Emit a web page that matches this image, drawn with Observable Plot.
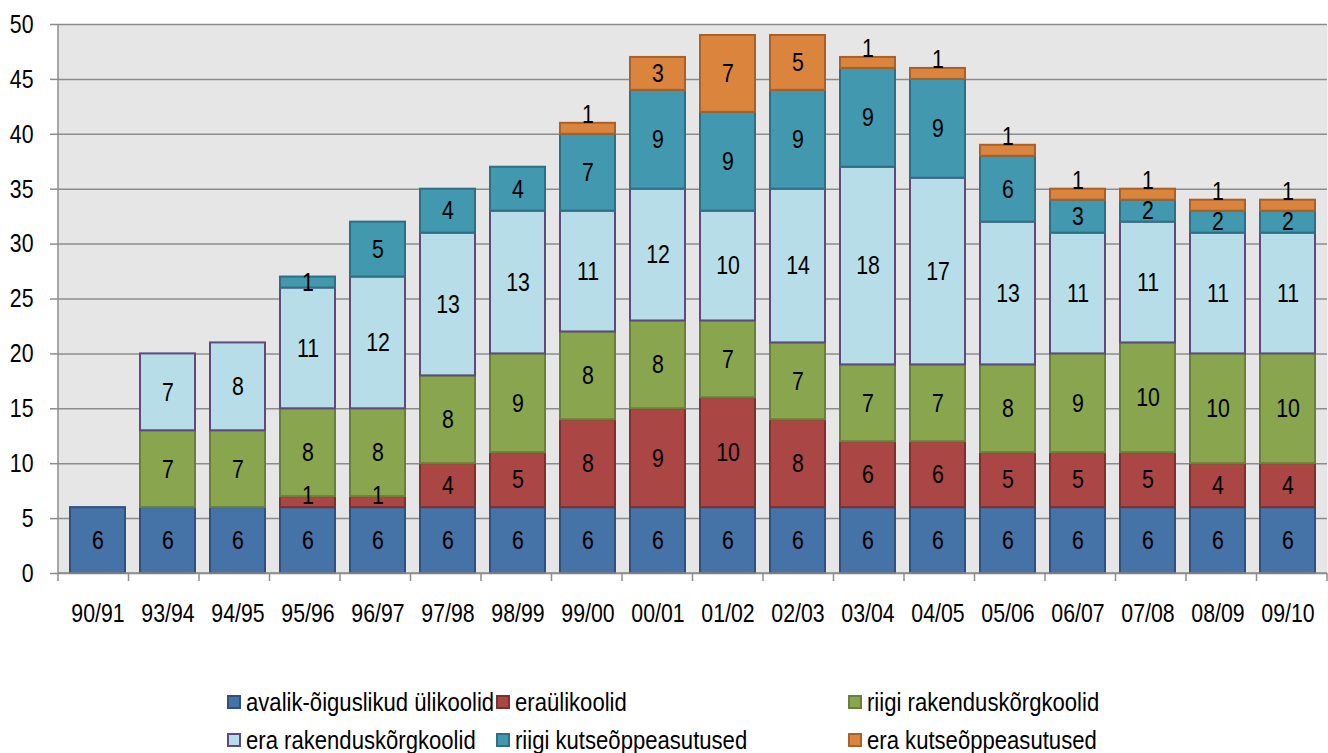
<!DOCTYPE html>
<html><head><meta charset="utf-8">
<script src="https://cdn.jsdelivr.net/npm/d3@7"></script>
<script src="https://cdn.jsdelivr.net/npm/@observablehq/plot@0.6"></script>
<style>
body{margin:0;background:#fff;font-family:"Liberation Sans",Arial,sans-serif;}
#legend{position:relative;height:103px;width:1328px;font-size:26px;color:#000}
.item{position:absolute;display:flex;align-items:center;white-space:nowrap;line-height:1;height:26px}
.sw{width:14px;height:14px;border:2px solid;margin-right:5px;box-sizing:border-box;flex:none}
.lt{display:inline-block;transform:scaleX(0.85);transform-origin:left center}
</style></head><body><div id="chart"></div><div id="legend"></div>
<script>
const categories = ["90/91","93/94","94/95","95/96","96/97","97/98","98/99","99/00","00/01","01/02","02/03","03/04","04/05","05/06","06/07","07/08","08/09","09/10"];
const seriesNames = ["avalik-õiguslikud ülikoolid","eraülikoolid","riigi rakenduskõrgkoolid","era rakenduskõrgkoolid","riigi kutseõppeasutused","era kutseõppeasutused"];
const seriesColors = ["#4572A7","#AA4643","#89A54E","#B7DEE8","#4198AF","#DB843D"];
const seriesStrokes = ["#2F5181","#7E302E","#6A803A","#5E4A7E","#2E7083","#A9612A"];
const avalikUlikoolid   = [6,6,6,6,6,6,6,6,6,6,6,6,6,6,6,6,6,6];
const eraUlikoolid      = [0,0,0,1,1,4,5,8,9,10,8,6,6,5,5,5,4,4];
const riigiRakendus     = [0,7,7,8,8,8,9,8,8,7,7,7,7,8,9,10,10,10];
const eraRakendus       = [0,7,8,11,12,13,13,11,12,10,14,18,17,13,11,11,11,11];
const riigiKutse        = [0,0,0,1,5,4,4,7,9,9,9,9,9,6,3,2,2,2];
const eraKutse          = [0,0,0,0,0,0,0,1,3,7,5,1,1,1,1,1,1,1];
const yTicks = [0,5,10,15,20,25,30,35,40,45,50];

const seriesValues = [avalikUlikoolid, eraUlikoolid, riigiRakendus, eraRakendus, riigiKutse, eraKutse];
const rows = [];
categories.forEach((cat, i) => {
  let acc = 0;
  seriesValues.forEach((vals, s) => {
    const v = vals[i];
    if (v > 0) rows.push({cat, s, series: seriesNames[s], value: v, y1: acc, y2: acc + v});
    acc += v;
  });
});

const FONT = '"Liberation Sans",Arial,sans-serif';
const FS = 26;
const W = 1328, H = 650, ML = 58, MR = 1, MT = 24, MB = 77;

function axisLines(index, scales, values, dims) {
  const {width, height, marginLeft, marginRight, marginTop, marginBottom} = dims;
  const g = d3.create("svg:g").attr("stroke", "#8c8c8c").attr("stroke-width", 1.5);
  const x0 = marginLeft, x1 = width - marginRight, yb = height - marginBottom;
  g.append("line").attr("x1", x0).attr("x2", x0).attr("y1", marginTop).attr("y2", yb + 8);
  g.append("line").attr("x1", x0).attr("x2", x1).attr("y1", yb).attr("y2", yb);
  const n = categories.length, step = (x1 - x0) / n;
  for (let i = 1; i <= n; i++) {
    g.append("line").attr("x1", x0 + i * step).attr("x2", x0 + i * step).attr("y1", yb).attr("y2", yb + 8);
  }
  return g.node();
}

const isEraKutseOne = d => d.s === 5 && d.value === 1;
const isEraUlikOne = d => d.s === 1 && d.value === 1;

const chart = Plot.plot({
  width: W, height: H, marginLeft: ML, marginRight: MR, marginTop: MT, marginBottom: MB,
  style: {fontFamily: FONT, fontSize: FS + "px", color: "#000", background: "#fff"},
  x: {domain: categories, paddingInner: 0.22, paddingOuter: 0.11, label: null},
  y: {domain: [0, 50], label: null},
  marks: [
    Plot.frame({fill: "#e6e6e6", stroke: null}),
    Plot.gridY(yTicks, {stroke: "#8c8c8c", strokeOpacity: 1, strokeWidth: 1.5}),
    Plot.axisY(yTicks, {tickSize: 8, tickPadding: 17, stroke: "#8c8c8c", strokeWidth: 1.5, label: null, fontSize: FS, fill: "#000"}),
    Plot.axisX({tickSize: 0, tickPadding: 30, label: null, fontSize: FS, fill: "#000"}),
    ...seriesNames.map((name, s) => Plot.barY(rows.filter(d => d.s === s), {
      x: "cat", y1: "y1", y2: "y2", fill: seriesColors[s], stroke: seriesStrokes[s], strokeWidth: 2
    })),
    Plot.text(rows.filter(d => !isEraKutseOne(d) && !isEraUlikOne(d)), {x: "cat", y: d => (d.y1 + d.y2) / 2, text: "value", fontSize: FS, fill: "#000"}),
    Plot.text(rows.filter(isEraKutseOne), {x: "cat", y: d => (d.y1 + d.y2) / 2, text: "value", fontSize: FS, fill: "#000", dy: -14}),
    Plot.text(rows.filter(isEraUlikOne), {x: "cat", y: d => (d.y1 + d.y2) / 2, text: "value", fontSize: FS, fill: "#000", dy: -6}),
    axisLines
  ]
});
// narrow the glyphs horizontally (condensed look), scaling about each label's anchor
chart.querySelectorAll("text").forEach(t => {
  const x = +t.getAttribute("x") || 0;
  const tr = t.getAttribute("transform") || "";
  t.setAttribute("transform", `${tr} translate(${x},0) scale(0.82,1) translate(${-x},0)`);
});
document.getElementById("chart").append(chart);

const legend = document.getElementById("legend");
const legendCols = [227, 496, 848];
const legendRows = [39, 77];
seriesNames.forEach((name, s) => {
  const it = document.createElement("div");
  it.className = "item";
  it.style.left = legendCols[s % 3] + "px";
  it.style.top = legendRows[Math.floor(s / 3)] + "px";
  const sw = document.createElement("span");
  sw.className = "sw";
  sw.style.background = seriesColors[s];
  sw.style.borderColor = seriesStrokes[s];
  const tx = document.createElement("span");
  tx.className = "lt";
  tx.textContent = name;
  it.append(sw, tx);
  legend.append(it);
});
</script>
</body></html>
